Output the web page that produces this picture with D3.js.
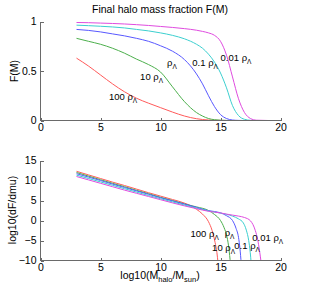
<!DOCTYPE html>
<html><head><meta charset="utf-8">
<script src="https://cdn.jsdelivr.net/npm/d3@7"></script>
<style>
body{margin:0;background:#fff;}
svg{display:block;font-family:"Liberation Sans",Arial,sans-serif;}
.axis path,.axis line{stroke:#6a6a6a;shape-rendering:crispEdges;}
.axis text{fill:#000;font-size:10.5px;font-family:"Liberation Sans",Arial,sans-serif;}
</style></head>
<body>
<script>
// ---------- data ----------
const seriesNames = ["100", "10", "1", "0.1", "0.01"];
const seriesColors = ["#ff5a5a", "#4caf4c", "#5858ff", "#3ccfcf", "#df4bdf"];

const xTicks = [0, 5, 10, 15, 20];
const topYTicks = [0, 0.5, 1];
const botYTicks = [-10, -5, 0, 5, 10, 15];

// Top panel: F(M)
const topX = [3,4,5,6,7,8,9,10,11,12,13,13.5,14,14.5,15,15.5,16,16.5,17,17.5,18,19,20];
const topRed   = [0.63,0.55,0.46,0.37,0.29,0.225,0.175,0.13,0.085,0.045,0.018,0.01,0.005,0.002,0.001,0,0,0,0,0,0,0,0];
const topGreen = [0.83,0.80,0.77,0.73,0.68,0.62,0.565,0.49,0.34,0.19,0.08,0.045,0.02,0.008,0.003,0.001,0,0,0,0,0,0,0];
const topBlue  = [0.92,0.91,0.895,0.875,0.855,0.83,0.80,0.755,0.70,0.615,0.47,0.37,0.25,0.14,0.06,0.02,0.005,0.001,0,0,0,0,0];
const topCyan  = [0.963,0.958,0.952,0.945,0.935,0.92,0.905,0.885,0.86,0.825,0.77,0.73,0.67,0.59,0.48,0.33,0.15,0.05,0.012,0.002,0,0,0];
const topMag   = [0.99,0.988,0.984,0.98,0.975,0.968,0.96,0.95,0.94,0.928,0.912,0.90,0.885,0.86,0.80,0.66,0.44,0.22,0.08,0.02,0.003,0,0];

// Bottom panel: log10(dF/dmu)
const botRedX   = [3,4,5,6,7,8,9,10,11,12,12.5,13,13.5,14,14.3,14.55,14.7,14.8];
const botRedY   = [12.3,11.4,10.5,9.6,8.75,7.85,6.95,6.1,5.25,4.35,3.7,2.8,1.6,-0.3,-2.5,-5.5,-8,-10.8];
const botGreenX = [3,4,5,6,7,8,9,10,11,12,13,14,14.5,15,15.3,15.55,15.7,15.83];
const botGreenY = [12.0,11.1,10.2,9.3,8.45,7.55,6.7,5.8,5.0,4.15,3.4,2.5,1.5,0.0,-1.8,-4.2,-7,-10.8];
const botBlueX  = [3,4,5,6,7,8,9,10,11,12,13,14,14.5,15,15.5,16,16.3,16.5,16.62,16.73];
const botBlueY  = [11.7,10.85,10.0,9.1,8.25,7.4,6.55,5.7,4.9,4.1,3.3,2.45,2.25,1.9,1.2,0.0,-2.0,-4.2,-7,-10.8];
const botCyanX  = [3,4,5,6,7,8,9,10,11,12,13,14,15,16,16.5,16.9,17.15,17.35,17.48,17.56];
const botCyanY  = [11.35,10.5,9.65,8.8,7.95,7.1,6.25,5.45,4.65,3.85,3.1,2.4,1.85,1.1,0.4,-0.6,-2.4,-5,-8,-10.8];
const botMagX   = [3,4,5,6,7,8,9,10,11,12,13,14,15,15.5,16,16.5,17,17.5,17.9,18.1,18.25,18.4];
const botMagY   = [11.0,10.15,9.3,8.45,7.6,6.8,6.0,5.2,4.4,3.65,2.95,2.3,1.9,1.6,1.35,1.1,0.75,-0.1,-2.5,-4.8,-7.5,-10.8];

// label anchors (data coords)
const topLabelX = [5.7, 8.3, 10.55, 12.65, 15.0];
const topLabelY = [0.21, 0.41, 0.555, 0.555, 0.60];
const botLabelX = [12.5, 14.3, 15.35, 16.15, 17.65];
const botLabelY = [-4.2, -7.5, -3.8, -7.0, -5.2];

// ---------- drawing ----------
const W = 309, H = 291;
const svg = d3.select("body").append("svg").attr("width", W).attr("height", H);

const x = d3.scaleLinear().domain([0, 20]).range([40.5, 280.5]);
const yTop = d3.scaleLinear().domain([0, 1]).range([120.5, 21.5]);
const yBot = d3.scaleLinear().domain([-10, 15]).range([260.5, 160.5]);

const fmt = d => (d < 0 ? "\u2212" + Math.abs(d) : String(d));

function axes(y, yt) {
  const gx = svg.append("g").attr("class", "axis")
    .attr("transform", `translate(0,${y.range()[0]})`)
    .call(d3.axisBottom(x).tickValues(xTicks).tickSizeInner(-3).tickSizeOuter(0).tickPadding(3).tickFormat(fmt));
  const gy = svg.append("g").attr("class", "axis")
    .attr("transform", `translate(${x.range()[0]},0)`)
    .call(d3.axisLeft(y).tickValues(yt).tickSizeInner(-3).tickSizeOuter(0).tickPadding(4).tickFormat(fmt));
  gx.select(".domain").attr("d", `M${x.range()[0]},0H${x.range()[1]}`);
  gy.select(".domain").attr("d", `M0,${y.range()[0]}V${y.range()[1]}`);
}

// clip paths
const defs = svg.append("defs");
defs.append("clipPath").attr("id", "cTop").append("rect")
  .attr("x", x.range()[0]).attr("y", yTop.range()[1]).attr("width", x.range()[1] - x.range()[0]).attr("height", yTop.range()[0] - yTop.range()[1]);
defs.append("clipPath").attr("id", "cBot").append("rect")
  .attr("x", x.range()[0]).attr("y", yBot.range()[1]).attr("width", x.range()[1] - x.range()[0]).attr("height", yBot.range()[0] - yBot.range()[1]);

// Top panel lines
const topSeries = [topRed, topGreen, topBlue, topCyan, topMag];
const lineTop = d3.line().x(d => x(d[0])).y(d => yTop(d[1])).curve(d3.curveMonotoneX);
const gTop = svg.append("g").attr("clip-path", "url(#cTop)");
topSeries.forEach((vals, i) => {
  gTop.append("path").datum(topX.map((xx, j) => [xx, vals[j]]))
    .attr("d", lineTop).attr("fill", "none").attr("stroke", seriesColors[i]).attr("stroke-width", 1);
});

// Bottom panel lines
const botSeries = [[botRedX, botRedY], [botGreenX, botGreenY], [botBlueX, botBlueY], [botCyanX, botCyanY], [botMagX, botMagY]];
const lineBot = d3.line().x(d => x(d[0])).y(d => yBot(d[1])).curve(d3.curveMonotoneX);
const gBot = svg.append("g").attr("clip-path", "url(#cBot)");
botSeries.forEach((s, i) => {
  gBot.append("path").datum(s[0].map((xx, j) => [xx, s[1][j]]))
    .attr("d", lineBot).attr("fill", "none").attr("stroke", seriesColors[i]).attr("stroke-width", 1);
});

axes(yTop, topYTicks);
axes(yBot, botYTicks);

// series labels
function rhoLabel(px, py, name) {
  const t = svg.append("text").attr("x", px).attr("y", py).attr("font-size", 9.5).attr("fill", "#000");
  t.append("tspan").text(name === "1" ? "\u03C1" : name + " \u03C1");
  t.append("tspan").attr("font-size", 6.5).attr("dy", 3).text("\u039B");
}
seriesNames.forEach((n, i) => {
  rhoLabel(x(topLabelX[i]), yTop(topLabelY[i]), n);
  rhoLabel(x(botLabelX[i]), yBot(botLabelY[i]), n);
});

// title
svg.append("text").attr("x", 160).attr("y", 13).attr("text-anchor", "middle")
  .attr("font-size", 10.5).text("Final halo mass fraction F(M)");

// y labels
svg.append("text").attr("transform", "translate(18,71) rotate(-90)").attr("text-anchor", "middle")
  .attr("font-size", 10.5).text("F(M)");
svg.append("text").attr("transform", "translate(16,210) rotate(-90)").attr("text-anchor", "middle")
  .attr("font-size", 10.5).text("log10(dF/dmu)");

// x label
const xl = svg.append("text").attr("x", 160).attr("y", 279).attr("text-anchor", "middle").attr("font-size", 10.5);
xl.append("tspan").text("log10(M");
xl.append("tspan").attr("font-size", 7.5).attr("dy", 3).text("halo");
xl.append("tspan").attr("dy", -3).text("/M");
xl.append("tspan").attr("font-size", 7.5).attr("dy", 3).text("sun");
xl.append("tspan").attr("dy", -3).text(")");
</script>
</body></html>
